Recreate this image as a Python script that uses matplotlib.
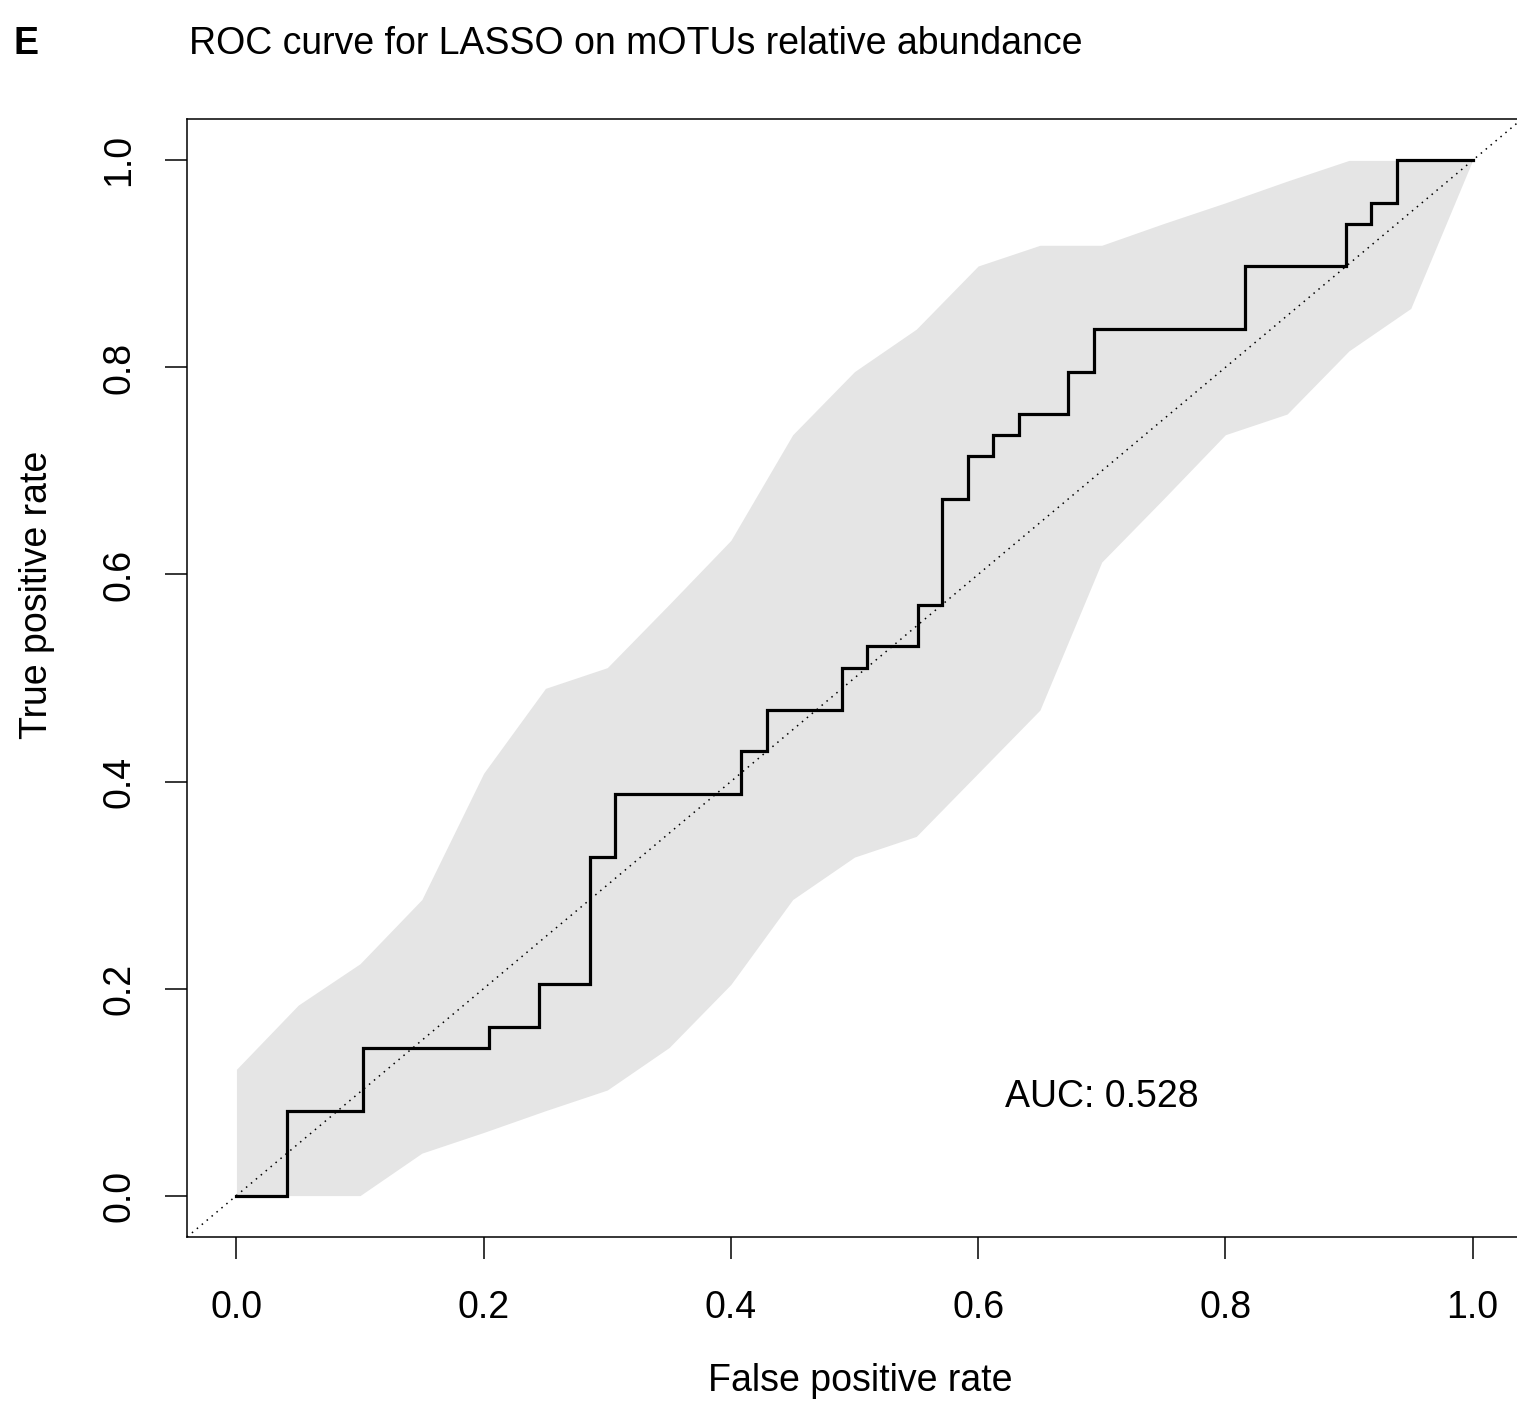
import matplotlib as mpl
mpl.use('Agg')
import matplotlib.pyplot as plt
import numpy as np

mpl.rcParams.update({
    'font.family': ['Liberation Sans', 'DejaVu Sans'],
    'font.size': 27,
    'axes.linewidth': 1.1,
})

# ROC corner points (step curve, horizontal first)
fpr = [0.0, 0.041, 0.102, 0.204, 0.245, 0.286, 0.306, 0.408, 0.429, 0.490,
       0.510, 0.551, 0.571, 0.592, 0.612, 0.633, 0.673, 0.694, 0.816, 0.898,
       0.918, 0.939, 1.0]
tpr = [0.0, 0.082, 0.143, 0.163, 0.204, 0.327, 0.388, 0.429, 0.469, 0.510,
       0.531, 0.571, 0.673, 0.714, 0.735, 0.755, 0.796, 0.837, 0.898, 0.939,
       0.959, 1.0, 1.0]

# confidence band on a fixed FPR grid
band_fpr = [0.0, 0.05, 0.1, 0.15, 0.2, 0.25, 0.3, 0.35, 0.4, 0.45, 0.5,
            0.55, 0.6, 0.65, 0.7, 0.75, 0.8, 0.85, 0.9, 0.95, 1.0]
band_hi = [0.122, 0.184, 0.224, 0.286, 0.408, 0.490, 0.510, 0.571, 0.633,
           0.735, 0.796, 0.837, 0.898, 0.918, 0.918, 0.939, 0.959, 0.980,
           1.0, 1.0, 1.0]
band_lo = [0.0, 0.0, 0.0, 0.041, 0.061, 0.082, 0.102, 0.143, 0.204, 0.286,
           0.327, 0.347, 0.408, 0.469, 0.612, 0.673, 0.735, 0.755, 0.816,
           0.857, 1.0]

auc = 0.528
ticks = [0.0, 0.2, 0.4, 0.6, 0.8, 1.0]
tick_labels = ['0.0', '0.2', '0.4', '0.6', '0.8', '1.0']

W, H = 1517, 1413
fig = plt.figure(figsize=(W / 100, H / 100), dpi=100)
ax = fig.add_axes([187 / W, 1 - 1237 / H, 1335 / W, 1118 / H])

ax.fill_between(band_fpr, band_lo, band_hi, color='#E5E5E5', lw=0)
ax.axline((0, 0), slope=1, color='black', lw=1.1, ls=(0, (1, 3.2)))
ax.plot(fpr, tpr, drawstyle='steps-post', color='black', lw=2.3,
        solid_joinstyle='miter')

ax.set_xlim(-0.04, 1.04)
ax.set_ylim(-0.04, 1.04)
ax.set_xticks(ticks)
ax.set_xticklabels(tick_labels)
ax.set_yticks(ticks)
ax.set_yticklabels(tick_labels, rotation=90, va='center')
ax.tick_params(direction='out', length=15.8, width=1.1)
ax.tick_params(axis='x', pad=22)
ax.tick_params(axis='y', pad=20)

ax.text(0.7, 0.086, f'AUC: {auc:.3f}', ha='center', va='baseline')

fig.text(189 / W, 1 - 54 / H, 'ROC curve for LASSO on mOTUs relative abundance',
         ha='left', va='baseline')
fig.text(13 / W, 1 - 54 / H, 'E', ha='left', va='baseline', weight='bold')
fig.text(860 / W, 1 - 1391 / H, 'False positive rate', ha='center', va='baseline')
fig.text(37 / W, 1 - 595 / H, 'True positive rate', rotation=90,
         ha='center', va='center')

fig.savefig('out.png', dpi=100)
